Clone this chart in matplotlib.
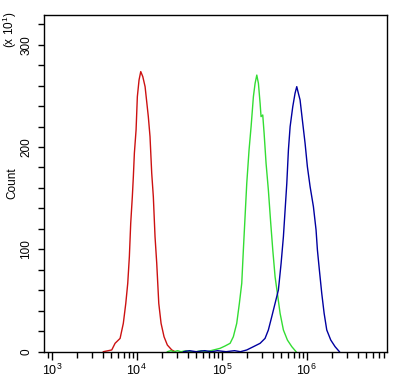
import numpy as np
import matplotlib
matplotlib.use("Agg")
import matplotlib.pyplot as plt
from matplotlib.ticker import FixedLocator, FixedFormatter, LogLocator, NullFormatter, MultipleLocator

plt.rcParams['font.family'] = ['Liberation Sans', 'DejaVu Sans']
plt.rcParams['mathtext.fontset'] = 'custom'
plt.rcParams['mathtext.rm'] = 'Liberation Sans'
plt.rcParams['mathtext.it'] = 'Liberation Sans'

# log10 of fluorescence intensity, counts (x10^1)
red_logx = [3.607, 3.706, 3.745, 3.804, 3.842, 3.871, 3.894, 3.913, 3.929, 3.948, 3.960, 3.972,
            3.992, 4.007, 4.027, 4.047, 4.071, 4.098, 4.136, 4.156, 4.176, 4.195, 4.215, 4.235,
            4.259, 4.286, 4.321, 4.360, 4.412, 4.451]
red_cnt = [0, 1.7, 8.2, 13.0, 27.7, 47.2, 66.8, 92.8, 125.5, 151.5, 171.1, 194,
           216.7, 249.2, 265.5, 273.7, 268.8, 259, 229.7, 210.2, 174.4, 151.5, 112.4, 86.4,
           47.2, 27.7, 14.6, 6.5, 1.7, 0]

green_logx = [4.36, 4.40, 4.44, 4.48, 4.52, 4.58, 4.64, 4.70, 4.76, 4.824, 4.980, 5.039, 5.098,
              5.136, 5.176, 5.207, 5.235, 5.254, 5.274, 5.294, 5.321, 5.345, 5.372, 5.392,
              5.412, 5.431, 5.451, 5.462, 5.482, 5.498, 5.521, 5.548, 5.576, 5.600, 5.627,
              5.654, 5.686, 5.725, 5.772, 5.824, 5.874]
green_cnt = [0, 1, 0, 1, 0, 1, 0, 0, 1, 0, 3.3, 5.6, 8.2,
             14.6, 27.7, 47.2, 66.8, 99.4, 132, 164.6, 197.2, 220, 249.2, 262.2,
             270.3, 262.2, 242.6, 229.7, 231.3, 213.5, 184.1, 158.1, 125.5, 99.4, 73.3,
             57, 37.5, 21.2, 11.4, 4.9, 0]

blue_logx = [4.55, 4.62, 4.70, 4.80, 4.88, 4.95, 5.05, 5.15, 5.22, 5.294, 5.372, 5.451, 5.509,
             5.548, 5.588, 5.627, 5.666, 5.698, 5.725, 5.745, 5.765, 5.784, 5.804, 5.835,
             5.862, 5.882, 5.901, 5.921, 5.948, 5.980, 6.007, 6.039, 6.078, 6.109, 6.125,
             6.148, 6.176, 6.204, 6.235, 6.282, 6.333, 6.384]
blue_cnt = [0, 1, 0, 1, 0, 1, 0, 1, 0, 1.7, 4.9, 8.2, 13.0,
            21.2, 34.2, 47.2, 60.3, 86.4, 112.4, 138.5, 164.6, 197.2, 219.9, 239.4,
            252.5, 259, 252.5, 246, 226.4, 203.6, 180.8, 161.3, 141.7, 119, 99.4,
            79.9, 57, 37.5, 21.2, 11.4, 4.9, 0]

xtick_vals = [1e3, 1e4, 1e5, 1e6]
xtick_labels = [r'$10^{3}$', r'$10^{4}$', r'$10^{5}$', r'$10^{6}$']
ytick_vals = [0, 100, 200, 300]

fig = plt.figure(figsize=(4.02, 3.82), dpi=100)
ax = fig.add_axes([44/402, 1-351.7/382, (386.7-44)/402, (351.7-15)/382])

ax.plot(10**np.array(red_logx), red_cnt, color='#cc1111', lw=1.0)
ax.plot(10**np.array(green_logx), green_cnt, color='#33dd33', lw=1.0)
ax.plot(10**np.array(blue_logx), blue_cnt, color='#0000a0', lw=1.0)

ax.set_xscale('log')
ax.set_xlim(10**2.909, 10**6.94)
ax.set_ylim(0, 329)

ax.xaxis.set_major_locator(FixedLocator(xtick_vals))
ax.xaxis.set_major_formatter(FixedFormatter(xtick_labels))
ax.xaxis.set_minor_locator(LogLocator(base=10, subs=np.arange(2, 10)))
ax.xaxis.set_minor_formatter(NullFormatter())

ax.yaxis.set_major_locator(FixedLocator(ytick_vals))
ax.yaxis.set_minor_locator(MultipleLocator(20))

for s in ax.spines.values():
    s.set_linewidth(1.0)
    s.set_color('black')

ax.tick_params(axis='x', which='major', length=6, width=1, labelsize=9, pad=2)
ax.tick_params(axis='x', which='minor', length=4, width=1)
ax.tick_params(axis='y', which='both', length=4, width=1, labelsize=8.5, pad=4.5)
for lab in ax.get_yticklabels():
    lab.set_rotation(90)
    lab.set_va('center')

ax.set_ylabel('Count', fontsize=8.5, labelpad=1)
fig.text(10/402, 1-30/382, r'(x 10$^{1}$)', rotation=90, fontsize=8.5, ha='center', va='center')

fig.savefig('out.png', dpi=100)
